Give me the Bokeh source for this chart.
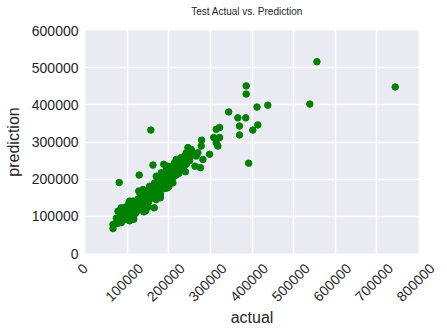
import math
from bokeh.plotting import figure
from bokeh.layouts import column
from bokeh.models import FixedTicker, Range1d
from bokeh.core.properties import value
from bokeh.embed import file_html
from bokeh.resources import INLINE

# actual / prediction values (in thousands)
actual_k = [
    66, 66, 78, 82, 78, 86, 94, 90, 102, 106, 114, 118, 114, 122, 126, 130, 138, 142, 134, 146,
    150, 154, 158, 162, 166, 170, 174, 178, 182, 186, 190, 194, 198, 202, 206, 198, 210, 214, 218, 222,
    226, 230, 234, 238, 242, 246, 250, 254, 258, 262, 266, 270, 278, 279, 282, 276, 263, 298, 308, 314,
    322, 318, 314, 322, 165, 129, 162, 188, 110, 98, 86, 77,
    100, 105, 108, 112, 116, 120, 124, 128, 132, 136, 140, 144, 148, 152, 156, 160, 164, 168, 172, 176,
    180, 184, 188, 192, 196, 200, 204, 208, 212, 216, 220, 224, 228, 232, 236, 240, 244, 248, 252, 256,
    110, 118, 126, 134, 142, 150, 158, 166, 174, 182, 190, 198, 206, 214, 104, 96, 90, 84, 72, 74,
    88, 92, 102, 106, 115, 122, 130, 138, 146, 154, 162, 170, 178, 186, 194, 202, 210, 218, 226, 234,
    242, 250, 150, 140, 160, 170, 180, 190,
    96, 104, 116, 128, 196, 140, 150, 170, 180, 200, 210, 120, 135, 155, 145, 240,
    386, 386, 344, 366, 385, 412, 370, 370, 402, 414, 392, 157, 81,
    556, 744, 539, 438,
]
prediction_k = [
    67, 78, 87, 96, 114, 123, 123, 110, 101, 141, 141, 128, 110, 119, 146, 164, 172, 154, 141, 137,
    164, 181, 154, 172, 190, 208, 181, 199, 217, 190, 208, 226, 235, 217, 208, 181, 235, 244, 253, 235,
    244, 258, 249, 262, 271, 285, 276, 280, 271, 267, 262, 271, 289, 305, 253, 231, 235, 267, 312, 334,
    339, 289, 298, 312, 123, 211, 238, 240, 92, 92, 83, 81,
    110, 100, 120, 105, 115, 108, 130, 120, 135, 125, 145, 130, 150, 140, 160, 150, 170, 160, 175, 165,
    185, 175, 195, 185, 200, 195, 210, 200, 220, 210, 225, 215, 232, 225, 240, 250, 258, 265, 262, 270,
    125, 135, 145, 155, 160, 170, 180, 185, 195, 200, 215, 225, 228, 236, 120, 105, 95, 100, 80, 95,
    112, 118, 94, 88, 100, 112, 118, 130, 135, 148, 158, 165, 170, 180, 190, 198, 205, 212, 222, 230,
    240, 250, 145, 135, 165, 150, 160, 175,
    125, 135, 92, 168, 176, 112, 125, 145, 150, 180, 190, 140, 160, 175, 115, 220,
    451, 429, 381, 365, 365, 394, 343, 319, 332, 346, 243, 332, 191,
    516, 448, 402, 399,
]
actual = [v * 1000 for v in actual_k]
prediction = [v * 1000 for v in prediction_k]

x_ticks = [0, 100000, 200000, 300000, 400000, 500000, 600000, 700000, 800000]
x_labels = [str(t) for t in x_ticks]
y_ticks = [0, 100000, 200000, 300000, 400000, 500000, 600000]

TITLE = "Test Actual vs. Prediction"
X_LABEL = "actual"
Y_LABEL = "prediction"

FONT = "Liberation Sans"
TEXT = "#262626"
TICK_PX = 14
LABEL_PX = 16

W = 447
LEFT, RIGHT = 85, 29          # frame margins
TOP_H, MAIN_PAD, FRAME_H = 22, 8, 223
MAIN_H = MAIN_PAD + FRAME_H + MAIN_PAD
BOT_H = 332 - TOP_H - MAIN_H

X0, X1 = 0, 800000
Y0, Y1 = 0, 600000
S = (X1 - X0) / (W - LEFT - RIGHT)   # data units per pixel
ext_x = (X0 - LEFT * S, X1 + RIGHT * S)


def strip(height):
    f = figure(width=W, height=height, output_backend="svg", toolbar_location=None,
               x_range=Range1d(*ext_x), y_range=Range1d(-height, 0),
               x_axis_location=None, y_axis_location=None, frame_align=False,
               min_border_left=0, min_border_right=0, min_border_top=0, min_border_bottom=0)
    f.outline_line_color = None
    f.background_fill_color = "white"
    f.border_fill_color = "white"
    f.grid.visible = False
    return f


# ---- title strip
top = strip(TOP_H)
top.text(x=[(X0 + X1) / 2], y=[-11], text=[TITLE], x_offset=-5,
         text_align="center", text_baseline="middle",
         text_font=value(FONT), text_font_size="10px", text_color=TEXT)

# ---- main plot
p = figure(width=W, height=MAIN_H, output_backend="svg", toolbar_location=None,
           x_range=Range1d(X0, X1), y_range=Range1d(Y0, Y1), x_axis_location=None,
           frame_align=False,
           min_border_left=LEFT, min_border_right=RIGHT,
           min_border_top=MAIN_PAD, min_border_bottom=MAIN_PAD)
p.background_fill_color = "#EAEAF2"
p.border_fill_color = "white"
p.outline_line_color = None

p.scatter(actual, prediction, size=6.5, color="#008000", line_color="#008000")

ax = p.yaxis[0]
ax.ticker = FixedTicker(ticks=y_ticks)
ax.formatter.use_scientific = False
ax.axis_line_color = None
ax.major_tick_line_color = None
ax.minor_tick_line_color = None
ax.major_tick_out = 0
ax.major_tick_in = 0
ax.minor_tick_out = 0
ax.minor_tick_in = 0
ax.major_label_text_font = FONT
ax.major_label_text_font_size = f"{TICK_PX}px"
ax.major_label_text_color = TEXT
ax.major_label_standoff = 7
ax.axis_label = Y_LABEL
ax.axis_label_text_font = FONT
ax.axis_label_text_font_size = f"{LABEL_PX}px"
ax.axis_label_text_font_style = "normal"
ax.axis_label_text_color = TEXT
ax.axis_label_standoff = 7

p.xgrid.ticker = FixedTicker(ticks=x_ticks)
p.ygrid.ticker = FixedTicker(ticks=y_ticks)
p.grid.grid_line_color = "white"
p.grid.grid_line_width = 1.5

# ---- x tick labels (rotated 45 deg, centred under each tick) and x label
bot = strip(BOT_H)
c45 = math.cos(math.pi / 4)
tick_y = []
for s in x_labels:
    w = len(s) * 0.556 * TICK_PX
    h = 0.716 * TICK_PX
    tick_y.append(-(1 + c45 * (w + h) / 2))
bot.text(x=x_ticks, y=tick_y, text=x_labels, angle=math.pi / 4, x_offset=-3,
         text_align="center", text_baseline="middle",
         text_font=value(FONT), text_font_size=f"{TICK_PX}px", text_color=TEXT)
bot.text(x=[(X0 + X1) / 2], y=[-55.5], text=[X_LABEL],
         text_align="center", text_baseline="middle",
         text_font=value(FONT), text_font_size=f"{LABEL_PX}px", text_color=TEXT)

layout = column(top, p, bot, spacing=0)
open("out.html", "w").write(file_html(layout, INLINE))
